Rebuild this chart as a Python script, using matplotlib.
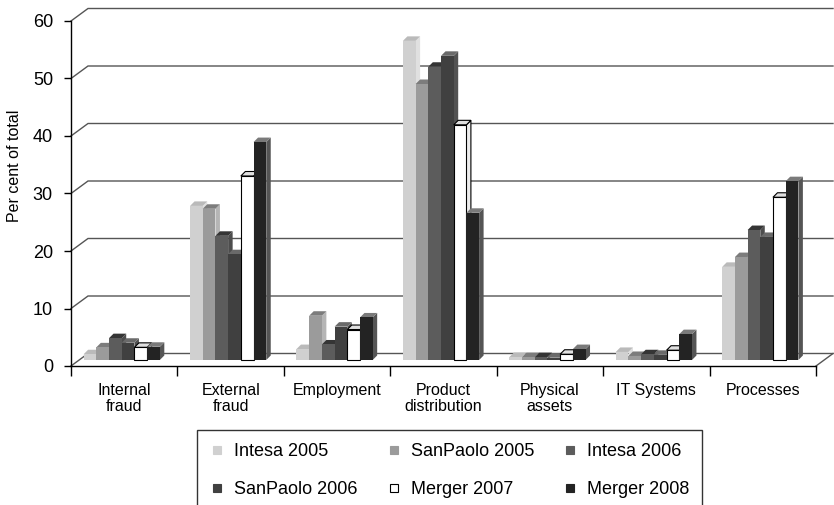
import numpy as np
import matplotlib
matplotlib.use("Agg")
import matplotlib.pyplot as plt
from matplotlib.lines import Line2D

plt.rcParams["font.family"] = ["Liberation Sans", "DejaVu Sans"]

categories = ["Internal\nfraud", "External\nfraud", "Employment", "Product\ndistribution",
              "Physical\nassets", "IT Systems", "Processes"]
series_names = ["Intesa 2005", "SanPaolo 2005", "Intesa 2006",
                "SanPaolo 2006", "Merger 2007", "Merger 2008"]

intesa_2005 = [1.0, 26.8, 1.9, 55.5, 0.5, 1.4, 16.2]
sanpaolo_2005 = [2.2, 26.3, 7.7, 48.0, 0.5, 0.7, 17.9]
intesa_2006 = [3.8, 21.6, 2.7, 51.0, 0.5, 1.0, 22.6]
sanpaolo_2006 = [3.0, 18.4, 5.8, 52.9, 0.4, 0.9, 21.4]
merger_2007 = [2.2, 32.0, 5.3, 40.9, 1.0, 1.7, 28.3]
merger_2008 = [2.3, 37.9, 7.4, 25.6, 1.9, 4.5, 31.1]
series = [intesa_2005, sanpaolo_2005, intesa_2006, sanpaolo_2006, merger_2007, merger_2008]

# face colours: front, top, side
front_col = ["#d0d0d0", "#9b9b9b", "#5c5c5c", "#404040", "#ffffff", "#232323"]
top_col = ["#bababa", "#7c7c7c", "#353535", "#6a6a6a", "#e0e0e0", "#7a7a7a"]
side_col = ["#e0e0e0", "#b5b5b5", "#4d4d4d", "#525252", "#ececec", "#555555"]
edge_col = ["none", "none", "none", "none", "black", "none"]

W, H = 834, 505
fig = plt.figure(figsize=(W / 100, H / 100), dpi=100)
ax = fig.add_axes([71 / W, 139 / H, 745 / W, 345 / H])
ax.set_xlim(0, 7)
ax.set_ylim(0, 60)

px_x = 7 / 745.0     # data units per pixel
px_y = 60 / 345.0

# back wall offset and bar depth offsets
back_dx, back_dy = 17 * px_x, 12.5 * px_y
lift = 6 * px_y
shift = -2.5 * px_x
bar_w = 12.7 * px_x
dep_dx, dep_dy = 4.5 * px_x, 4.5 * px_y

# back wall gridlines with the diagonals to the value axis
for v in range(0, 61, 10):
    ax.plot([0, back_dx, 7 + back_dx], [v, v + back_dy, v + back_dy],
            color="#555555", lw=1.0, clip_on=False, zorder=1, solid_joinstyle="miter")
ax.plot([7, 7 + back_dx], [0, back_dy], color="#555555", lw=1.0, clip_on=False, zorder=1)

# pseudo-3D bars
n = len(series)
z = 2
for c in range(len(categories)):
    x_start = c + 0.5 + shift - n * bar_w / 2
    for j in range(n):
        v = series[j][c]
        x0 = x_start + j * bar_w
        x1 = x0 + bar_w
        b, t = lift, lift + v
        ec = edge_col[j]
        lw = 0.8 if ec != "none" else 0
        ax.fill([x1, x1 + dep_dx, x1 + dep_dx, x1], [b, b + dep_dy, t + dep_dy, t],
                facecolor=side_col[j], edgecolor=ec, lw=lw, zorder=z, clip_on=False)
        ax.fill([x0, x1, x1 + dep_dx, x0 + dep_dx], [t, t, t + dep_dy, t + dep_dy],
                facecolor=top_col[j], edgecolor=ec, lw=lw, zorder=z, clip_on=False)
        ax.bar(x0, v, bottom=b, width=bar_w, align="edge", color=front_col[j],
               edgecolor=ec, linewidth=lw, zorder=z + 0.5, clip_on=False)
        z += 1

for s in ["top", "right"]:
    ax.spines[s].set_visible(False)
for s in ["left", "bottom"]:
    ax.spines[s].set_linewidth(1.0)
    ax.spines[s].set_zorder(100)

ax.set_yticks(range(0, 61, 10))
ax.tick_params(axis="y", length=5, width=1.0, pad=8, labelsize=13)
ax.set_xticks(np.arange(0, 8))
ax.set_xticklabels([])
ax.tick_params(axis="x", which="major", length=7, width=1.0)
ax.set_xticks(np.arange(7) + 0.5, minor=True)
ax.set_xticklabels(categories, minor=True, fontsize=11.5, linespacing=1.15)
ax.tick_params(axis="x", which="minor", length=0, pad=12)
ax.patch.set_visible(False)

fig.text(15 / W, 1 - 166 / H, "Per cent of total", rotation=90,
         ha="center", va="center", fontsize=11.5)

# legend laid out row by row
order = [0, 3, 1, 4, 2, 5]
handles = [Line2D([], [], linestyle="none", marker="s", markersize=6,
                  markerfacecolor=front_col[i],
                  markeredgecolor="black" if edge_col[i] != "none" else front_col[i],
                  markeredgewidth=0.8) for i in order]
labels = [series_names[i] for i in order]
leg = fig.legend(handles, labels, ncol=3, loc="upper left",
                 bbox_to_anchor=(197 / W, 1 - 430 / H), fontsize=13,
                 frameon=True, fancybox=False, edgecolor="black",
                 borderpad=0.73, handlelength=0.78, handleheight=0.7,
                 handletextpad=0.55, columnspacing=1.6, labelspacing=1.17,
                 borderaxespad=0)
leg.get_frame().set_linewidth(1.0)

fig.savefig("out.png", dpi=100)
